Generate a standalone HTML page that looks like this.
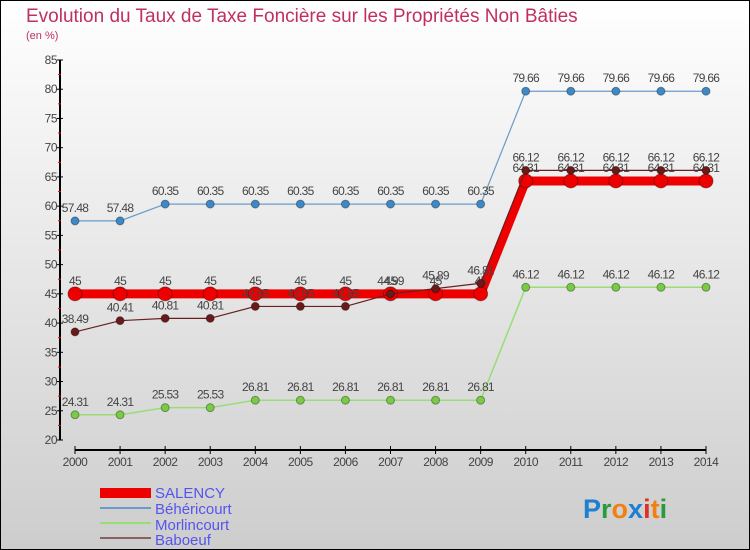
<!DOCTYPE html>
<html><head><meta charset="utf-8"><style>
html,body{margin:0;padding:0}
body{width:750px;height:550px;overflow:hidden;font-family:"Liberation Sans",sans-serif}
svg{display:block}
</style></head><body>
<svg width="750" height="550" xmlns="http://www.w3.org/2000/svg">
<defs>
<linearGradient id="bg" x1="0" y1="0" x2="0" y2="1"><stop offset="0" stop-color="#ffffff"/><stop offset="1" stop-color="#cdcdcd"/></linearGradient>
</defs>
<rect x="0.5" y="0.5" width="749" height="549" fill="url(#bg)" stroke="#000" stroke-width="1"/>
<text x="26" y="22" font-size="19" fill="#c0305e">Evolution du Taux de Taxe Foncière sur les Propriétés Non Bâties</text>
<text x="26" y="39" font-size="11" fill="#c0305e">(en %)</text>
<g id="axes"></g>
<g id="series"></g>
<g>
<rect x="100" y="488" width="51" height="10" fill="#ee0000"/>
<text x="155" y="498" font-size="15" fill="#5555ee">SALENCY</text>
<line x1="100" y1="508" x2="151" y2="508" stroke="#6b9bc7" stroke-width="2"/>
<text x="155" y="514" font-size="15" fill="#5555ee">Béhéricourt</text>
<line x1="100" y1="523" x2="151" y2="523" stroke="#99dd77" stroke-width="2"/>
<text x="155" y="530" font-size="15" fill="#5555ee">Morlincourt</text>
<line x1="100" y1="538" x2="151" y2="538" stroke="#8a6060" stroke-width="2"/>
<text x="155" y="545" font-size="15" fill="#5555ee">Baboeuf</text>
</g>
<text x="583" y="518" font-size="27" font-weight="bold"><tspan fill="#1e7fd0">P</tspan><tspan fill="#2a9a3a">r</tspan><tspan fill="#f08010">o</tspan><tspan fill="#1e7fd0">x</tspan><tspan fill="#e03020">i</tspan><tspan fill="#f08010">t</tspan><tspan fill="#2a9a3a">i</tspan></text>
</svg>
<script>
const years = [2000,2001,2002,2003,2004,2005,2006,2007,2008,2009,2010,2011,2012,2013,2014];
const yTicks = [20,25,30,35,40,45,50,55,60,65,70,75,80,85];
const salency = [45,45,45,45,45,45,45,45,45,45,64.31,64.31,64.31,64.31,64.31];
const behericourt = [57.48,57.48,60.35,60.35,60.35,60.35,60.35,60.35,60.35,60.35,79.66,79.66,79.66,79.66,79.66];
const morlincourt = [24.31,24.31,25.53,25.53,26.81,26.81,26.81,26.81,26.81,26.81,46.12,46.12,46.12,46.12,46.12];
const baboeuf = [38.49,40.41,40.81,40.81,42.85,42.85,42.85,44.99,45.89,46.81,66.12,66.12,66.12,66.12,66.12];

const NS = "http://www.w3.org/2000/svg";
const xS = i => 75 + i * (706 - 75) / (years.length - 1);
const yS = v => 440 - (v - 20) * (380 / 65);
function mk(tag, attrs, parent) { const e = document.createElementNS(NS, tag); for (const k in attrs) e.setAttribute(k, attrs[k]); parent.appendChild(e); return e; }
const axes = document.getElementById('axes');
const ser = document.getElementById('series');

let yl = mk('line', {x1:60,y1:yS(85),x2:60,y2:440,stroke:'#000','stroke-width':2}, axes);


yTicks.forEach((t, i) => {
  const y = yS(t);
  mk('line', {x1:57,y1:y,x2:63,y2:y,stroke:'#000'}, axes);
  if (i < yTicks.length - 1) mk('line', {x1:58,y1:yS(t + 2.5),x2:61,y2:yS(t + 2.5),stroke:'#ff0000'}, axes);
  const tx = mk('text', {x:57,y:y + 4,'font-size':12,fill:'#444','text-anchor':'end','letter-spacing':'-0.5'}, axes);
  tx.textContent = t;
  
  
});
let xl = mk('line', {x1:75,y1:450,x2:706,y2:450,stroke:'#000','stroke-width':2}, axes);


years.forEach((yr, i) => {
  const x = xS(i);
  mk('line', {x1:x,y1:446,x2:x,y2:454,stroke:'#000'}, axes);
  const tx = mk('text', {x:x,y:466,'font-size':12,fill:'#444','text-anchor':'middle','letter-spacing':'-0.5'}, axes);
  tx.textContent = yr;
  
  
});

function draw(vals, name, color, width, r, fill) {
  const g = mk('g', {}, ser);
  
  
  const pts = vals.map((v, i) => xS(i) + ',' + yS(v)).join(' ');
  const pl = mk('polyline', {points:pts,fill:'none',stroke:color,'stroke-width':width,'stroke-linejoin':'round'}, g);
  
  
  vals.forEach((v, i) => {
    const c = mk('circle', {cx:xS(i),cy:yS(v),r:r,fill:fill,stroke:'rgba(0,0,0,0.35)','stroke-width':1}, g);
    
    
    const t = mk('text', {x:xS(i),y:yS(v) - 9,'font-size':12,fill:'#444','text-anchor':'middle','letter-spacing':'-0.7'}, g);
    t.textContent = v;
    
    
  });
}
draw(behericourt, 'behericourt', '#6b9bc7', 1.2, 4, '#3d88c6');
draw(morlincourt, 'morlincourt', '#99dd77', 1.5, 4, '#77cc44');
draw(salency, 'salency', '#ee0000', 9, 7, '#ee0000');
draw(baboeuf, 'baboeuf', '#6a2020', 1.2, 4, '#6a1a1a');
</script>
</body></html>
